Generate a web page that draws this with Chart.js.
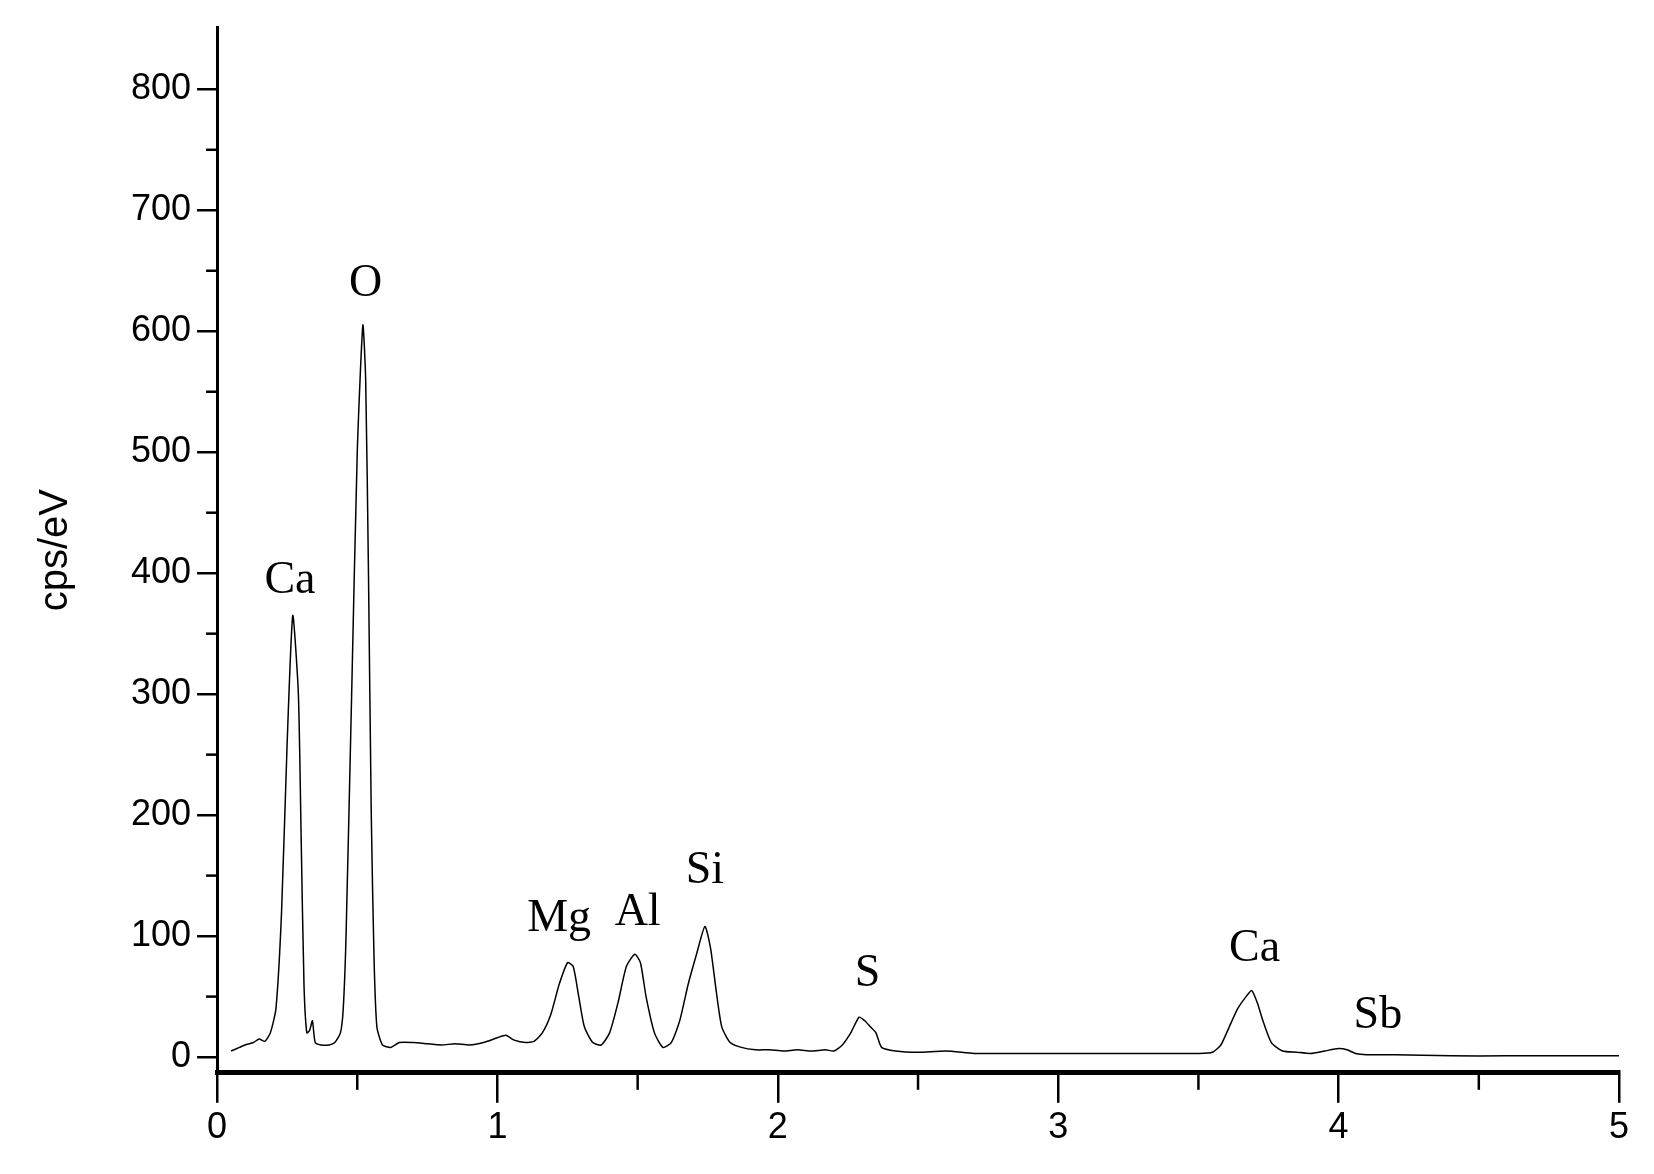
<!DOCTYPE html>
<html><head><meta charset="utf-8">
<script src="https://cdn.jsdelivr.net/npm/chart.js@4"></script>
<style>html,body{margin:0;padding:0;background:#fff}canvas{display:block}</style>
</head><body>
<canvas id="c" width="1654" height="1174"></canvas>
<script>
const energy = [0.05,0.08,0.1,0.13,0.15,0.17,0.19,0.21,0.23,0.25,0.27,0.29,0.3,0.31,0.32,0.33,0.34,0.35,0.37,0.4,0.42,0.44,0.45,0.46,0.48,0.5,0.52,0.53,0.54,0.55,0.56,0.57,0.59,0.62,0.65,0.7,0.75,0.8,0.85,0.9,0.95,1.0,1.03,1.06,1.1,1.13,1.16,1.19,1.22,1.25,1.27,1.29,1.31,1.34,1.37,1.4,1.43,1.46,1.49,1.51,1.53,1.56,1.59,1.62,1.65,1.68,1.71,1.74,1.76,1.78,1.8,1.83,1.87,1.92,1.97,2.02,2.07,2.12,2.17,2.2,2.23,2.26,2.29,2.31,2.33,2.35,2.37,2.42,2.5,2.6,2.7,2.8,2.9,3.0,3.1,3.2,3.3,3.4,3.5,3.55,3.58,3.61,3.64,3.67,3.69,3.71,3.73,3.76,3.8,3.85,3.9,3.95,4.0,4.03,4.06,4.1,4.2,4.4,4.6,4.8,5.0];
const cps = [5,8,10,12,15,13,20,40,120,260,365,300,180,60,20,22,30,12,10,10,12,20,40,100,300,500,605,560,400,200,80,25,10,8,12,12,11,10,11,10,12,16,18,14,12,13,20,35,60,78,75,50,25,12,10,20,45,75,85,78,50,20,8,12,30,60,85,108,90,55,25,12,8,6,6,5,6,5,6,5,10,20,33,30,25,20,8,5,4,5,3,3,3,3,3,3,3,3,3,4,10,25,40,50,55,45,30,12,5,4,3,5,7,6,3,2,2,1,1,1,1];
const peakNames = ["Ca","O","Mg","Al","Si","S","Ca","Sb"];
const peakX = [0.26,0.53,1.22,1.50,1.74,2.32,3.70,4.14];
const peakY = [375,620,95,100,135,50,70,15];
const yTicks = [0,100,200,300,400,500,600,700,800];
const xTicks = [0,1,2,3,4,5];

const extras = {
  id:'extras',
  afterDraw(ch){
    const c=ch.ctx, x=ch.scales.x, y=ch.scales.y;
    c.save();
    c.strokeStyle='#000'; c.lineWidth=2.5;
    for(let v=50; v<=800; v+=100){const py=y.getPixelForValue(v); c.beginPath(); c.moveTo(x.left,py); c.lineTo(x.left-11,py); c.stroke();}
    for(let v=0.5; v<5; v+=1){const px=x.getPixelForValue(v); c.beginPath(); c.moveTo(px,y.bottom); c.lineTo(px,y.bottom+17); c.stroke();}
    c.fillStyle='#000'; c.font='46px "Liberation Serif"'; c.textAlign='center'; c.textBaseline='bottom';
    peakNames.forEach((n,i)=>c.fillText(n, x.getPixelForValue(peakX[i]), y.getPixelForValue(peakY[i])));
    c.restore();
  }
};

new Chart(document.getElementById('c'),{
  type:'line',
  data:{datasets:[{data:energy.map((e,i)=>({x:e,y:cps[i]})),borderColor:'#000',borderWidth:1.5,pointRadius:0,tension:0.2,fill:false}]},
  options:{
    responsive:false, animation:false,
    layout:{padding:{top:20,right:35,bottom:20,left:28}},
    plugins:{legend:{display:false},tooltip:{enabled:false}},
    scales:{
      x:{type:'linear',min:0,max:5,
        afterBuildTicks:s=>{s.ticks=xTicks.map(v=>({value:v}));},
        border:{color:'#000',width:5},
        grid:{drawOnChartArea:false,color:'#000',lineWidth:2.5,tickLength:30},
        ticks:{color:'#000',font:{family:'Liberation Sans',size:36},padding:4}},
      y:{type:'linear',min:-13,max:851,
        afterBuildTicks:s=>{s.ticks=yTicks.map(v=>({value:v}));},
        border:{color:'#000',width:3},
        grid:{drawOnChartArea:false,color:'#000',lineWidth:2.5,tickLength:20},
        ticks:{color:'#000',font:{family:'Liberation Sans',size:36},padding:6},
        title:{display:true,text:'cps/eV',color:'#000',font:{family:'Liberation Sans',size:40},padding:{bottom:45}}}
    }
  },
  plugins:[extras]
});
</script>
</body></html>
